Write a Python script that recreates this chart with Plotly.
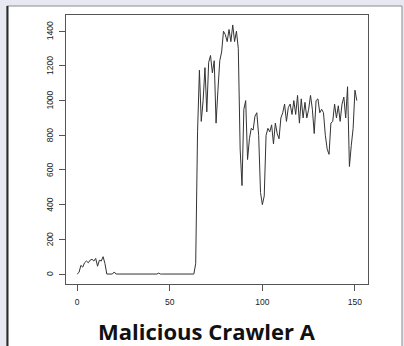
import plotly.graph_objects as go

# values (index 0..151)
early = [0, 10, 50, 40, 65, 75, 65, 80, 85, 75, 90, 45, 80, 75, 100, 60]  # 0..15
mid = [0, 0, 0, 0, 12, 0, 0, 0, 0, 0, 0, 0, 0, 0, 0, 0, 0, 0, 0, 0, 0, 0, 0, 0,
       0, 0, 0, 0, 5, 0, 0, 0, 0, 0, 0, 0, 0, 0, 0, 0, 0, 0, 0, 0, 0, 0, 0, 0]  # 16..63
late = [60, 820, 1175, 880, 1000, 1190, 935, 1220, 1260, 1160, 1230, 870, 1060,
        1230, 1280, 1400, 1380, 1340, 1410, 1340, 1436, 1340, 1400, 1300,
        720, 510, 950, 1000, 660, 780, 840, 830, 910, 930, 800, 470, 400, 450,
        800, 840, 820, 860, 750, 870, 810, 780, 900, 930, 980, 880, 960, 980,
        920, 1000, 920, 1030, 870, 1010, 900, 990, 900, 950, 1030, 950, 810,
        1000, 1010, 930, 950, 930, 800, 720, 690, 870, 880, 980, 900, 970, 880,
        980, 1020, 900, 1080, 620, 740, 840, 1060, 1000]  # 64..151
values = early + mid + late
idx = list(range(len(values)))

x_ticks = [0, 50, 100, 150]
y_ticks = [0, 200, 400, 600, 800, 1000, 1200, 1400]
title_text = "Malicious Crawler A"

n = len(values) - 1
vmax = max(values)
xr = [-0.04 * n, n + 0.04 * n]
yr = [-0.04 * vmax, vmax + 0.04 * vmax]

fig = go.Figure()
fig.add_trace(go.Scatter(x=idx, y=values, mode="lines",
                         line=dict(color="#333333", width=1),
                         hoverinfo="skip", showlegend=False))

L, R, T, B = 66, 36, 15, 62
W, H = 404, 346
pw, ph = W - L - R, H - T - B


def px_x(p):
    return (p - L) / pw


def px_y(p):
    return (H - B - p) / ph


shapes = [
    dict(type="rect", xref="paper", yref="paper", layer="below",
         x0=px_x(7), x1=px_x(402), y0=px_y(360), y1=px_y(6),
         fillcolor="white", line=dict(color="#8a8a8a", width=1)),
    dict(type="line", xref="paper", yref="paper", layer="below",
         x0=px_x(7.5), x1=px_x(7.5), y0=px_y(360), y1=px_y(6),
         line=dict(color="#2b2b2b", width=2)),
]

tick_font = dict(family="Liberation Sans, Arial", size=8.5, color="#222222")
axis_common = dict(showgrid=False, zeroline=False, showline=True, mirror=True,
                   linecolor="#555555", linewidth=1, ticks="outside", ticklen=6,
                   tickcolor="#555555", tickwidth=1, tickfont=tick_font)

annotations = [dict(text=str(v), xref="paper", yref="y", x=px_x(50), y=v,
                    xanchor="center", yanchor="middle", textangle=-90,
                    showarrow=False, font=tick_font) for v in y_ticks]
annotations.append(dict(text="<b>" + title_text + "</b>", xref="paper", yref="paper",
                        x=px_x(207), y=px_y(331), xanchor="center", yanchor="middle",
                        showarrow=False,
                        font=dict(family="Open Sans", size=22, color="#111111")))

fig.update_layout(
    width=W, height=H,
    margin=dict(l=L, r=R, t=T, b=B),
    paper_bgcolor="#e8e8f3",
    plot_bgcolor="white",
    shapes=shapes,
    xaxis=dict(range=xr, tickvals=x_ticks, ticktext=[str(v) for v in x_ticks],
               ticklabelstandoff=4, **axis_common),
    yaxis=dict(range=yr, tickvals=y_ticks, showticklabels=False, **axis_common),
    annotations=annotations,
)

fig.write_html("out.html")
